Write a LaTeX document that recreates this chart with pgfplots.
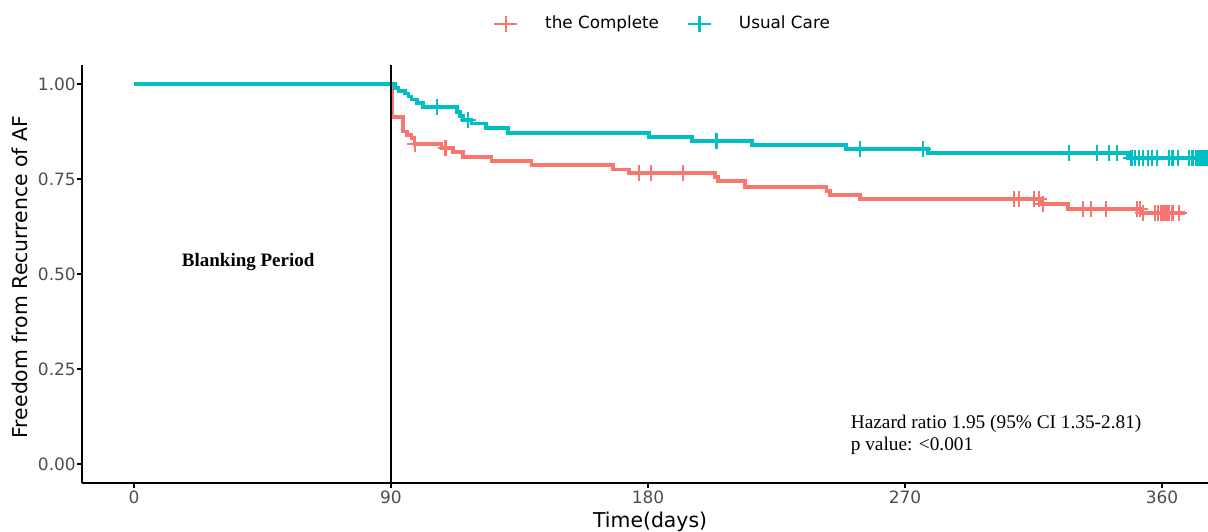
\documentclass[border=0pt]{standalone}
\usepackage{fontspec}
\setmainfont{DejaVu Sans}
\newfontfamily\seriffont{Liberation Serif}
\usepackage{pgfplots}
\pgfplotsset{compat=1.18}
\definecolor{cRed}{HTML}{F8766D}
\definecolor{cTeal}{HTML}{00BFC4}
\definecolor{tickgray}{HTML}{4D4D4D}
\begin{document}
\begin{tikzpicture}
\begin{axis}[
  scale only axis, width=571.7pt, height=209pt,
  xmin=-18.2, xmax=382.2, ymin=-0.05, ymax=1.05,
  axis lines*=left, axis line style={-, line width=0.8pt, black},
  xtick={0,90,180,270,360}, ytick={0,0.25,0.5,0.75,1},
  tick align=outside, major tick length=2.3pt,
  tick style={black, line width=0.6pt},
  ticklabel style={font=\fontsize{8.5}{10}\selectfont, text=tickgray},
  xticklabel style={inner sep=1.5pt},
  yticklabel style={inner sep=0.6pt, /pgf/number format/.cd, fixed, fixed zerofill, precision=2},
  /pgf/number format/assume math mode=true,
  legend columns=2,
  legend image code/.code={
    \draw[#1, line width=1.1pt] (0pt,0pt) -- (11.5pt,0pt);
    \draw[#1, line width=1.1pt] (5.75pt,-4pt) -- (5.75pt,4pt);
    \path[draw=none, fill=none] (0pt,0pt) -- (25.5pt,0pt);
  },
  legend style={draw=none, fill=none, font=\fontsize{8.4}{10}\selectfont,
    at={(axis description cs:0.5,1)}, anchor=center, xshift=3.9pt, yshift=20.5pt,
    inner sep=0pt, outer sep=0pt, nodes={inner xsep=0pt, inner ysep=1pt},
    /tikz/every even column/.append style={column sep=13.9pt}},
]
\addlegendimage{cRed}
\addlegendentry{the Complete}
\addlegendimage{cTeal}
\addlegendentry{Usual Care}

% the Complete
\addplot[cRed, line width=1.9pt, const plot, forget plot] coordinates {
(0,1.000) (90.4,0.914) (94.1,0.875) (95.5,0.866) (97.2,0.857) (98.2,0.842)
(107.7,0.831) (111.8,0.822) (115.1,0.807) (125.2,0.798) (139.2,0.787)
(167.8,0.775) (173.4,0.765) (203.4,0.755) (204.5,0.744) (213.9,0.730)
(242.5,0.719) (243.7,0.708) (254.2,0.697) (317.2,0.684) (327.1,0.671)
(352.8,0.660) (368.0,0.660)};
\addplot[cRed, only marks, mark=+, mark size=4pt, line width=1.1pt, forget plot] coordinates {
(98.5,0.842) (109.1,0.831) (176.9,0.765) (181.0,0.765) (192.3,0.765)
(308.1,0.697) (310.0,0.697) (315.1,0.697) (316.9,0.697) (318.4,0.684)
(332.2,0.671) (335.1,0.671) (340.3,0.671) (351.3,0.671) (352.2,0.671)
(353.4,0.660) (357.5,0.660) (358.7,0.660) (359.8,0.660) (360.6,0.660)
(361.6,0.660) (362.5,0.660) (363.7,0.660) (366.0,0.660)};

% Usual Care
\addplot[cTeal, line width=1.9pt, const plot, forget plot] coordinates {
(0,1.000) (91.4,0.990) (92.6,0.982) (94.9,0.975) (96.1,0.967) (97.2,0.959)
(99.0,0.949) (101.1,0.939) (113.2,0.927) (114.1,0.916) (115.1,0.905)
(118.2,0.896) (123.2,0.885) (131.1,0.872) (180.4,0.861) (195.3,0.850)
(216.3,0.839) (249.3,0.828) (278.1,0.818) (348.2,0.806) (376.0,0.806)};
\addplot[cTeal, only marks, mark=+, mark size=4pt, line width=1.1pt, forget plot] coordinates {
(106.2,0.939) (117.1,0.905) (204.0,0.850) (254.2,0.828) (276.4,0.828)
(327.4,0.818) (337.3,0.818) (341.4,0.818) (344.1,0.818)
(349.3,0.806) (350.5,0.806) (352.0,0.806) (353.4,0.806) (355.2,0.806)
(356.4,0.806) (358.1,0.806) (362.5,0.806) (363.7,0.806) (365.6,0.806)
(369.5,0.806) (370.7,0.806) (372.1,0.806) (373.0,0.806) (373.8,0.806)
(374.6,0.806) (375.6,0.806)};

% blanking period boundary
\addplot[black, line width=0.9pt, forget plot] coordinates {(90,-0.05) (90,1.05)};

\node[font=\seriffont\bfseries\fontsize{9.5}{11}\selectfont, anchor=base] at (axis cs:40,0.519) {Blanking Period};
\node[font=\seriffont\fontsize{9.65}{11}\selectfont, anchor=base west, inner sep=0pt] at (axis cs:250.9,0.0947) {Hazard ratio 1.95 (95\% CI 1.35-2.81)};
\node[font=\seriffont\fontsize{9.65}{11}\selectfont, anchor=base west, inner sep=0pt] at (axis cs:250.9,0.035) {p value: <0.001};
\end{axis}
\node[font=\fontsize{10.2}{12}\selectfont, xshift=-27pt, yshift=-1.5pt, rotate=90, anchor=base] at (current axis.west) {Freedom from Recurrence of AF};
\node[font=\fontsize{10.2}{12}\selectfont, anchor=base] at ([xshift=-1.8pt,yshift=-22pt]current axis.south) {Time(days)};
\pgfresetboundingbox
\path ([xshift=-41pt,yshift=-24pt]current axis.south west) rectangle ([xshift=563pt,yshift=32.5pt]current axis.north west);
\end{tikzpicture}
\end{document}
